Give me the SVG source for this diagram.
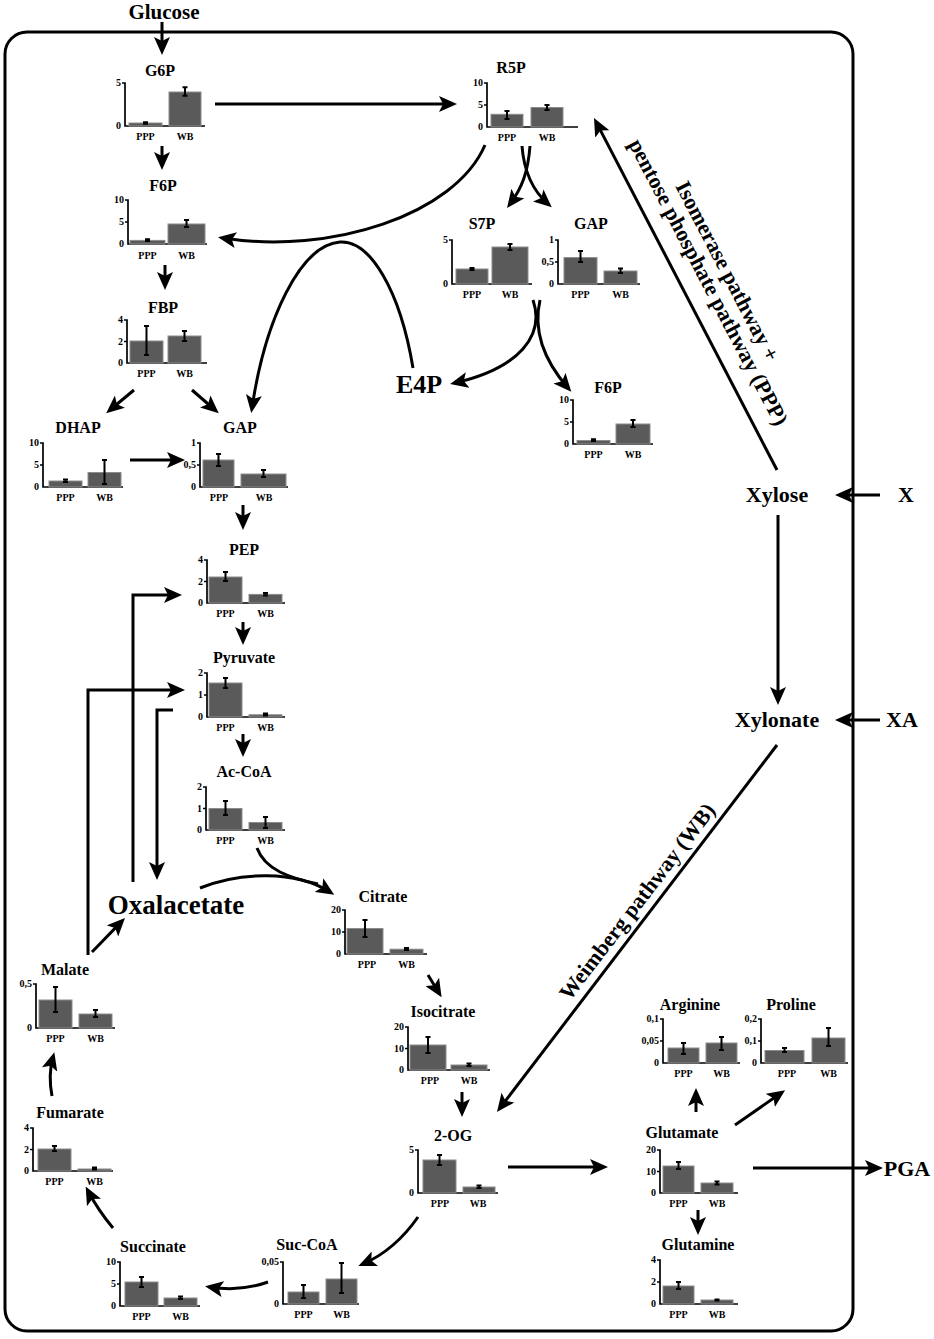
<svg xmlns="http://www.w3.org/2000/svg" width="934" height="1339" viewBox="0 0 934 1339">
<style>
text{font-family:"Liberation Serif","Times New Roman",serif;font-weight:bold;fill:#000}
.t{font-size:16px;text-anchor:middle}
.big{font-size:22px;text-anchor:middle}
.tk{font-size:10px;text-anchor:end}
.lb{font-size:10px;text-anchor:middle}
.ax{fill:none;stroke:#000;stroke-width:1.7}
.bar{fill:#5a5a5a;stroke:#8c8c8c;stroke-width:1}
.err{fill:none;stroke:#000;stroke-width:2}
.c{fill:none;stroke:#000;stroke-width:3;marker-end:url(#ah)}
.cn{fill:none;stroke:#000;stroke-width:3}
</style>
<defs>
<marker id="ah" viewBox="0 0 18 16" refX="13" refY="8" markerWidth="18" markerHeight="16" markerUnits="userSpaceOnUse" orient="auto">
<path d="M0,0 L18,8 L0,16 L4,8 z" fill="#000"/>
</marker>
</defs>
<rect width="934" height="1339" fill="#fff"/>
<rect id="cell" x="5" y="32" width="848" height="1299" rx="22" fill="none" stroke="#000" stroke-width="3"/>

<g id="connectors">
<path class="c" d="M162,22 V50"/>
<path class="c" d="M215,104 H452"/>
<path class="c" d="M162,146 V165"/>
<path class="c" d="M165,265 V285"/>
<path class="c" d="M134,390 L110,410"/>
<path class="c" d="M192,390 L215,410"/>
<path class="c" d="M130,460 H180"/>
<path class="c" d="M243,505 V525"/>
<path class="c" d="M243,622 V640"/>
<path class="c" d="M243,734 V752"/>
<path class="c" d="M485,145 C455,215 330,255 223,238"/>
<path class="c" d="M413,368 C400,290 370,240 340,242 C300,245 265,320 252,408"/>
<path class="c" d="M530,146 C528,172 522,188 510,204"/>
<path class="c" d="M522,146 C524,172 532,190 548,204"/>
<path class="c" d="M533,300 C545,335 520,368 455,383"/>
<path class="c" d="M540,300 C532,335 548,365 568,388"/>
<path class="c" d="M133,882 V595 H177"/>
<path class="c" d="M88,955 V690 H180"/>
<path class="c" d="M173,710 H157 V875"/>
<path class="cn" d="M257,848 C265,870 290,878 318,884"/>
<path class="c" d="M200,888 C240,872 295,870 330,892"/>
<path class="c" d="M428,975 L439,993"/>
<path class="c" d="M462,1092 V1112"/>
<path class="c" d="M777,745 L500,1108"/>
<path class="c" d="M508,1167 H603"/>
<path class="c" d="M418,1217 Q395,1250 363,1264"/>
<path class="c" d="M268,1282 Q240,1292 210,1287"/>
<path class="c" d="M113,1228 Q98,1210 88,1191"/>
<path class="c" d="M52,1096 Q48,1075 53,1057"/>
<path class="c" d="M92,952 L121.5,921.6"/>
<path class="c" d="M696,1112 V1093"/>
<path class="c" d="M735,1125 L781,1093"/>
<path class="c" d="M753,1168 H878"/>
<path class="c" d="M698,1210 V1230"/>
<path class="c" d="M777,470 L596.3,122.4"/>
<path class="c" d="M880,495 H840"/>
<path class="c" d="M880,720 H840"/>
<path class="c" d="M778,515 V700"/>
<text class="big" transform="translate(721,274.5) rotate(62.5)">Isomerase pathway +</text>
<text class="big" transform="translate(702,285.5) rotate(62.5)">pentose phosphate pathway (PPP)</text>
<text class="big" transform="translate(643,906) rotate(-52.5)">Weimberg pathway (WB)</text>
</g>

<g id="glucose"><text class="big" x="164" y="19" style="font-size:21px">Glucose</text></g>
<g id="e4p"><text class="big" x="419" y="393" style="font-size:26px">E4P</text></g>
<g id="oxalacetate"><text class="big" x="176" y="914" style="font-size:27px">Oxalacetate</text></g>
<g id="xylose"><text class="big" x="777" y="502">Xylose</text></g>
<g id="xylonate"><text class="big" x="777" y="727">Xylonate</text></g>
<g id="x"><text class="big" x="906" y="502">X</text></g>
<g id="xa"><text class="big" x="902" y="727">XA</text></g>
<g id="pga"><text class="big" x="907" y="1176">PGA</text></g>

<g id="g6p"><text class="t" x="160" y="76">G6P</text>
<g transform="translate(125,126)">
<path class="ax" d="M-3,-43H0V0H80"/>
<text class="tk" x="-4" y="-40">5</text><text class="tk" x="-4" y="3">0</text>
<rect class="bar" x="4" y="-3" width="33" height="3"/>
<rect class="bar" x="44" y="-34" width="32" height="34"/>
<path class="err" d="M18,-3.8h5M20.5,-3.8V-2.2M18,-2.2h5M57.5,-38.7h5M60,-38.7V-30.3M57.5,-30.3h5"/>
<text class="lb" x="20.5" y="14">PPP</text><text class="lb" x="60" y="14">WB</text>
</g></g>

<g id="r5p"><text class="t" x="511" y="73">R5P</text>
<g transform="translate(487,127)">
<path class="ax" d="M-3,-44H0V0H91M-3,-22H0"/>
<text class="tk" x="-4" y="-41">10</text><text class="tk" x="-4" y="-19">5</text><text class="tk" x="-4" y="3">0</text>
<rect class="bar" x="4" y="-12.7" width="32" height="12.7"/>
<rect class="bar" x="44" y="-19.5" width="32" height="19.5"/>
<path class="err" d="M17.5,-16h5M20,-16V-8M17.5,-8h5M57.5,-22h5M60,-22V-17M57.5,-17h5"/>
<text class="lb" x="20" y="14">PPP</text><text class="lb" x="60" y="14">WB</text>
</g></g>

<g id="s7p"><text class="t" x="482" y="229">S7P</text>
<g transform="translate(452,284)">
<path class="ax" d="M-3,-44H0V0H80"/>
<text class="tk" x="-4" y="-41">5</text><text class="tk" x="-4" y="3">0</text>
<rect class="bar" x="4" y="-15" width="32" height="15"/>
<rect class="bar" x="40" y="-37" width="36" height="37"/>
<path class="err" d="M17.5,-16h5M20,-16V-14M17.5,-14h5M55.5,-40h5M58,-40V-34M55.5,-34h5"/>
<text class="lb" x="20" y="14">PPP</text><text class="lb" x="58" y="14">WB</text>
</g></g>

<g id="gap-ppp"><text class="t" x="591" y="229">GAP</text>
<g transform="translate(558,284)">
<path class="ax" d="M-3,-44H0V0H82M-3,-22H0"/>
<text class="tk" x="-4" y="-41">1</text><text class="tk" x="-4" y="-19">0,5</text><text class="tk" x="-4" y="3">0</text>
<rect class="bar" x="6" y="-26.4" width="33" height="26.4"/>
<rect class="bar" x="46" y="-13" width="33" height="13"/>
<path class="err" d="M20,-33h5M22.5,-33V-22M20,-22h5M60,-15.5h5M62.5,-15.5V-11M60,-11h5"/>
<text class="lb" x="22.5" y="14">PPP</text><text class="lb" x="62.5" y="14">WB</text>
</g></g>

<g id="f6p-left"><text class="t" x="163" y="191">F6P</text>
<g transform="translate(128,244)">
<path class="ax" d="M-3,-44H0V0H79M-3,-22H0"/>
<text class="tk" x="-4" y="-41">10</text><text class="tk" x="-4" y="-19">5</text><text class="tk" x="-4" y="3">0</text>
<rect class="bar" x="2" y="-3.6" width="35" height="3.6"/>
<rect class="bar" x="40" y="-20" width="37" height="20"/>
<path class="err" d="M17,-4.8h5M19.5,-4.8V-3M17,-3h5M56,-24h5M58.5,-24V-17M56,-17h5"/>
<text class="lb" x="19.5" y="15">PPP</text><text class="lb" x="58.5" y="15">WB</text>
</g></g>

<g id="fbp"><text class="t" x="163" y="313">FBP</text>
<g transform="translate(127,363)">
<path class="ax" d="M-3,-43H0V0H80M-3,-21.5H0"/>
<text class="tk" x="-4" y="-40">4</text><text class="tk" x="-4" y="-18.5">2</text><text class="tk" x="-4" y="3">0</text>
<rect class="bar" x="3" y="-22" width="33" height="22"/>
<rect class="bar" x="41" y="-27" width="33" height="27"/>
<path class="err" d="M17,-37h5M19.5,-37V-8M17,-8h5M55,-32h5M57.5,-32V-22M55,-22h5"/>
<text class="lb" x="19.5" y="14">PPP</text><text class="lb" x="57.5" y="14">WB</text>
</g></g>

<g id="dhap"><text class="t" x="78" y="433">DHAP</text>
<g transform="translate(43,487)">
<path class="ax" d="M-3,-44H0V0H80M-3,-22H0"/>
<text class="tk" x="-4" y="-41">10</text><text class="tk" x="-4" y="-19">5</text><text class="tk" x="-4" y="3">0</text>
<rect class="bar" x="6" y="-6" width="33" height="6"/>
<rect class="bar" x="45" y="-14.5" width="33" height="14.5"/>
<path class="err" d="M20,-7.5h5M22.5,-7.5V-5M20,-5h5M59,-27h5M61.5,-27V-3M59,-3h5"/>
<text class="lb" x="22.5" y="14">PPP</text><text class="lb" x="61.5" y="14">WB</text>
</g></g>

<g id="gap-mid"><text class="t" x="240" y="433">GAP</text>
<g transform="translate(200,487)">
<path class="ax" d="M-3,-44H0V0H88M-3,-22H0"/>
<text class="tk" x="-4" y="-41">1</text><text class="tk" x="-4" y="-19">0,5</text><text class="tk" x="-4" y="3">0</text>
<rect class="bar" x="3" y="-27" width="31" height="27"/>
<rect class="bar" x="41" y="-13" width="45" height="13"/>
<path class="err" d="M16,-33h5M18.5,-33V-21M16,-21h5M61,-17h5M63.5,-17V-10M61,-10h5"/>
<text class="lb" x="19" y="14">PPP</text><text class="lb" x="64" y="14">WB</text>
</g></g>

<g id="f6p-right"><text class="t" x="608" y="393">F6P</text>
<g transform="translate(573,444)">
<path class="ax" d="M-3,-44H0V0H80M-3,-22H0"/>
<text class="tk" x="-4" y="-41">10</text><text class="tk" x="-4" y="-19">5</text><text class="tk" x="-4" y="3">0</text>
<rect class="bar" x="4" y="-3.5" width="33" height="3.5"/>
<rect class="bar" x="43" y="-20" width="34" height="20"/>
<path class="err" d="M18,-4.8h5M20.5,-4.8V-3M18,-3h5M57.5,-24h5M60,-24V-17M57.5,-17h5"/>
<text class="lb" x="20.5" y="14">PPP</text><text class="lb" x="60" y="14">WB</text>
</g></g>

<g id="pep"><text class="t" x="244" y="555">PEP</text>
<g transform="translate(207,603)">
<path class="ax" d="M-3,-43H0V0H78M-3,-21.5H0"/>
<text class="tk" x="-4" y="-40">4</text><text class="tk" x="-4" y="-18.5">2</text><text class="tk" x="-4" y="3">0</text>
<rect class="bar" x="2" y="-26" width="33" height="26"/>
<rect class="bar" x="42" y="-8.6" width="33" height="8.6"/>
<path class="err" d="M16,-31h5M18.5,-31V-22M16,-22h5M56,-10h5M58.5,-10V-7.5M56,-7.5h5"/>
<text class="lb" x="18.5" y="14">PPP</text><text class="lb" x="58.5" y="14">WB</text>
</g></g>

<g id="pyruvate"><text class="t" x="244" y="663">Pyruvate</text>
<g transform="translate(207,717)">
<path class="ax" d="M-3,-44H0V0H78M-3,-22H0"/>
<text class="tk" x="-4" y="-41">2</text><text class="tk" x="-4" y="-19">1</text><text class="tk" x="-4" y="3">0</text>
<rect class="bar" x="2" y="-34" width="33" height="34"/>
<rect class="bar" x="42" y="-2.2" width="33" height="2.2"/>
<path class="err" d="M16,-39h5M18.5,-39V-29M16,-29h5M56,-3.5h5M58.5,-3.5V-1.5M56,-1.5h5"/>
<text class="lb" x="18.5" y="14">PPP</text><text class="lb" x="58.5" y="14">WB</text>
</g></g>

<g id="ac-coa"><text class="t" x="244" y="777">Ac-CoA</text>
<g transform="translate(206,830)">
<path class="ax" d="M-3,-43H0V0H79M-3,-21.5H0"/>
<text class="tk" x="-4" y="-40">2</text><text class="tk" x="-4" y="-18.5">1</text><text class="tk" x="-4" y="3">0</text>
<rect class="bar" x="3" y="-21.5" width="33" height="21.5"/>
<rect class="bar" x="43" y="-7.5" width="33" height="7.5"/>
<path class="err" d="M17,-29h5M19.5,-29V-15M17,-15h5M57,-13h5M59.5,-13V-2M57,-2h5"/>
<text class="lb" x="19.5" y="14">PPP</text><text class="lb" x="59.5" y="14">WB</text>
</g></g>

<g id="citrate"><text class="t" x="383" y="902">Citrate</text>
<g transform="translate(345,954)">
<path class="ax" d="M-3,-44H0V0H82M-3,-22H0"/>
<text class="tk" x="-4" y="-41">20</text><text class="tk" x="-4" y="-19">10</text><text class="tk" x="-4" y="3">0</text>
<rect class="bar" x="2" y="-25.5" width="36" height="25.5"/>
<rect class="bar" x="45" y="-4.8" width="33" height="4.8"/>
<path class="err" d="M17.5,-34h5M20,-34V-17M17.5,-17h5M59,-6h5M61.5,-6V-4M59,-4h5"/>
<text class="lb" x="22" y="14">PPP</text><text class="lb" x="61.5" y="14">WB</text>
</g></g>

<g id="isocitrate"><text class="t" x="443" y="1017">Isocitrate</text>
<g transform="translate(408,1070)">
<path class="ax" d="M-3,-43H0V0H82M-3,-21.5H0"/>
<text class="tk" x="-4" y="-40">20</text><text class="tk" x="-4" y="-18.5">10</text><text class="tk" x="-4" y="3">0</text>
<rect class="bar" x="2" y="-25" width="36" height="25"/>
<rect class="bar" x="43" y="-5" width="36" height="5"/>
<path class="err" d="M17.5,-33h5M20,-33V-17M17.5,-17h5M58.5,-6.5h5M61,-6.5V-4M58.5,-4h5"/>
<text class="lb" x="22" y="14">PPP</text><text class="lb" x="61" y="14">WB</text>
</g></g>

<g id="two-og"><text class="t" x="453" y="1141">2-OG</text>
<g transform="translate(418,1193)">
<path class="ax" d="M-3,-43H0V0H80"/>
<text class="tk" x="-4" y="-40">5</text><text class="tk" x="-4" y="3">0</text>
<rect class="bar" x="5" y="-33" width="33" height="33"/>
<rect class="bar" x="45" y="-6" width="32" height="6"/>
<path class="err" d="M19,-38h5M21.5,-38V-28M19,-28h5M58.5,-7.5h5M61,-7.5V-5M58.5,-5h5"/>
<text class="lb" x="22" y="14">PPP</text><text class="lb" x="60" y="14">WB</text>
</g></g>

<g id="suc-coa"><text class="t" x="307" y="1250">Suc-CoA</text>
<g transform="translate(283,1304)">
<path class="ax" d="M-3,-42H0V0H76"/>
<text class="tk" x="-4" y="-39">0,05</text><text class="tk" x="-4" y="3">0</text>
<rect class="bar" x="5" y="-12" width="31" height="12"/>
<rect class="bar" x="43" y="-25" width="31" height="25"/>
<path class="err" d="M18,-19h5M20.5,-19V-6M18,-6h5M56,-41h5M58.5,-41V-11M56,-11h5"/>
<text class="lb" x="20.5" y="14">PPP</text><text class="lb" x="58.5" y="14">WB</text>
</g></g>

<g id="succinate"><text class="t" x="153" y="1252">Succinate</text>
<g transform="translate(120,1306)">
<path class="ax" d="M-3,-44H0V0H80M-3,-22H0"/>
<text class="tk" x="-4" y="-41">10</text><text class="tk" x="-4" y="-19">5</text><text class="tk" x="-4" y="3">0</text>
<rect class="bar" x="5" y="-24" width="33" height="24"/>
<rect class="bar" x="44" y="-8" width="33" height="8"/>
<path class="err" d="M19,-29h5M21.5,-29V-19M19,-19h5M58,-9.5h5M60.5,-9.5V-7M58,-7h5"/>
<text class="lb" x="21.5" y="14">PPP</text><text class="lb" x="60.5" y="14">WB</text>
</g></g>

<g id="fumarate"><text class="t" x="70" y="1118">Fumarate</text>
<g transform="translate(33,1171)">
<path class="ax" d="M-3,-43H0V0H80M-3,-21.5H0"/>
<text class="tk" x="-4" y="-40">4</text><text class="tk" x="-4" y="-18.5">2</text><text class="tk" x="-4" y="3">0</text>
<rect class="bar" x="5" y="-22" width="33" height="22"/>
<rect class="bar" x="45" y="-2" width="33" height="2"/>
<path class="err" d="M19,-25h5M21.5,-25V-20M19,-20h5M59,-3.5h5M61.5,-3.5V-1.5M59,-1.5h5"/>
<text class="lb" x="21.5" y="14">PPP</text><text class="lb" x="61.5" y="14">WB</text>
</g></g>

<g id="malate"><text class="t" x="65" y="975">Malate</text>
<g transform="translate(36,1028)">
<path class="ax" d="M-3,-44H0V0H79"/>
<text class="tk" x="-4" y="-41">0,5</text><text class="tk" x="-4" y="3">0</text>
<rect class="bar" x="3" y="-28" width="33" height="28"/>
<rect class="bar" x="43" y="-14" width="33" height="14"/>
<path class="err" d="M17,-41h5M19.5,-41V-16M17,-16h5M57,-18h5M59.5,-18V-11M57,-11h5"/>
<text class="lb" x="19.5" y="14">PPP</text><text class="lb" x="59.5" y="14">WB</text>
</g></g>

<g id="arginine"><text class="t" x="690" y="1010">Arginine</text>
<g transform="translate(663,1063)">
<path class="ax" d="M-3,-44H0V0H77M-3,-22H0"/>
<text class="tk" x="-4" y="-41">0,1</text><text class="tk" x="-4" y="-19">0,05</text><text class="tk" x="-4" y="3">0</text>
<rect class="bar" x="5" y="-15" width="31" height="15"/>
<rect class="bar" x="43" y="-20" width="31" height="20"/>
<path class="err" d="M18,-20h5M20.5,-20V-9M18,-9h5M56,-26h5M58.5,-26V-13M56,-13h5"/>
<text class="lb" x="20.5" y="14">PPP</text><text class="lb" x="58.5" y="14">WB</text>
</g></g>

<g id="proline"><text class="t" x="791" y="1010">Proline</text>
<g transform="translate(761,1063)">
<path class="ax" d="M-3,-44H0V0H87M-3,-22H0"/>
<text class="tk" x="-4" y="-41">0,2</text><text class="tk" x="-4" y="-19">0,1</text><text class="tk" x="-4" y="3">0</text>
<rect class="bar" x="4" y="-12.5" width="39" height="12.5"/>
<rect class="bar" x="51" y="-25" width="33" height="25"/>
<path class="err" d="M21,-15h5M23.5,-15V-11M21,-11h5M65,-35h5M67.5,-35V-17M65,-17h5"/>
<text class="lb" x="26" y="14">PPP</text><text class="lb" x="67.5" y="14">WB</text>
</g></g>

<g id="glutamate"><text class="t" x="682" y="1138">Glutamate</text>
<g transform="translate(660,1193)">
<path class="ax" d="M-3,-43H0V0H78M-3,-21.5H0"/>
<text class="tk" x="-4" y="-40">20</text><text class="tk" x="-4" y="-18.5">10</text><text class="tk" x="-4" y="3">0</text>
<rect class="bar" x="3" y="-27" width="31" height="27"/>
<rect class="bar" x="41" y="-10" width="32" height="10"/>
<path class="err" d="M16,-31h5M18.5,-31V-24M16,-24h5M54.5,-11.5h5M57,-11.5V-8.5M54.5,-8.5h5"/>
<text class="lb" x="18.5" y="14">PPP</text><text class="lb" x="57" y="14">WB</text>
</g></g>

<g id="glutamine"><text class="t" x="698" y="1250">Glutamine</text>
<g transform="translate(660,1304)">
<path class="ax" d="M-3,-44H0V0H78M-3,-22H0"/>
<text class="tk" x="-4" y="-41">4</text><text class="tk" x="-4" y="-19">2</text><text class="tk" x="-4" y="3">0</text>
<rect class="bar" x="3" y="-18" width="31" height="18"/>
<rect class="bar" x="41" y="-4" width="32" height="4"/>
<path class="err" d="M16,-22h5M18.5,-22V-15M16,-15h5M54.5,-4.5h5M57,-4.5V-3.5M54.5,-3.5h5"/>
<text class="lb" x="18.5" y="14">PPP</text><text class="lb" x="57" y="14">WB</text>
</g></g>
</svg>
